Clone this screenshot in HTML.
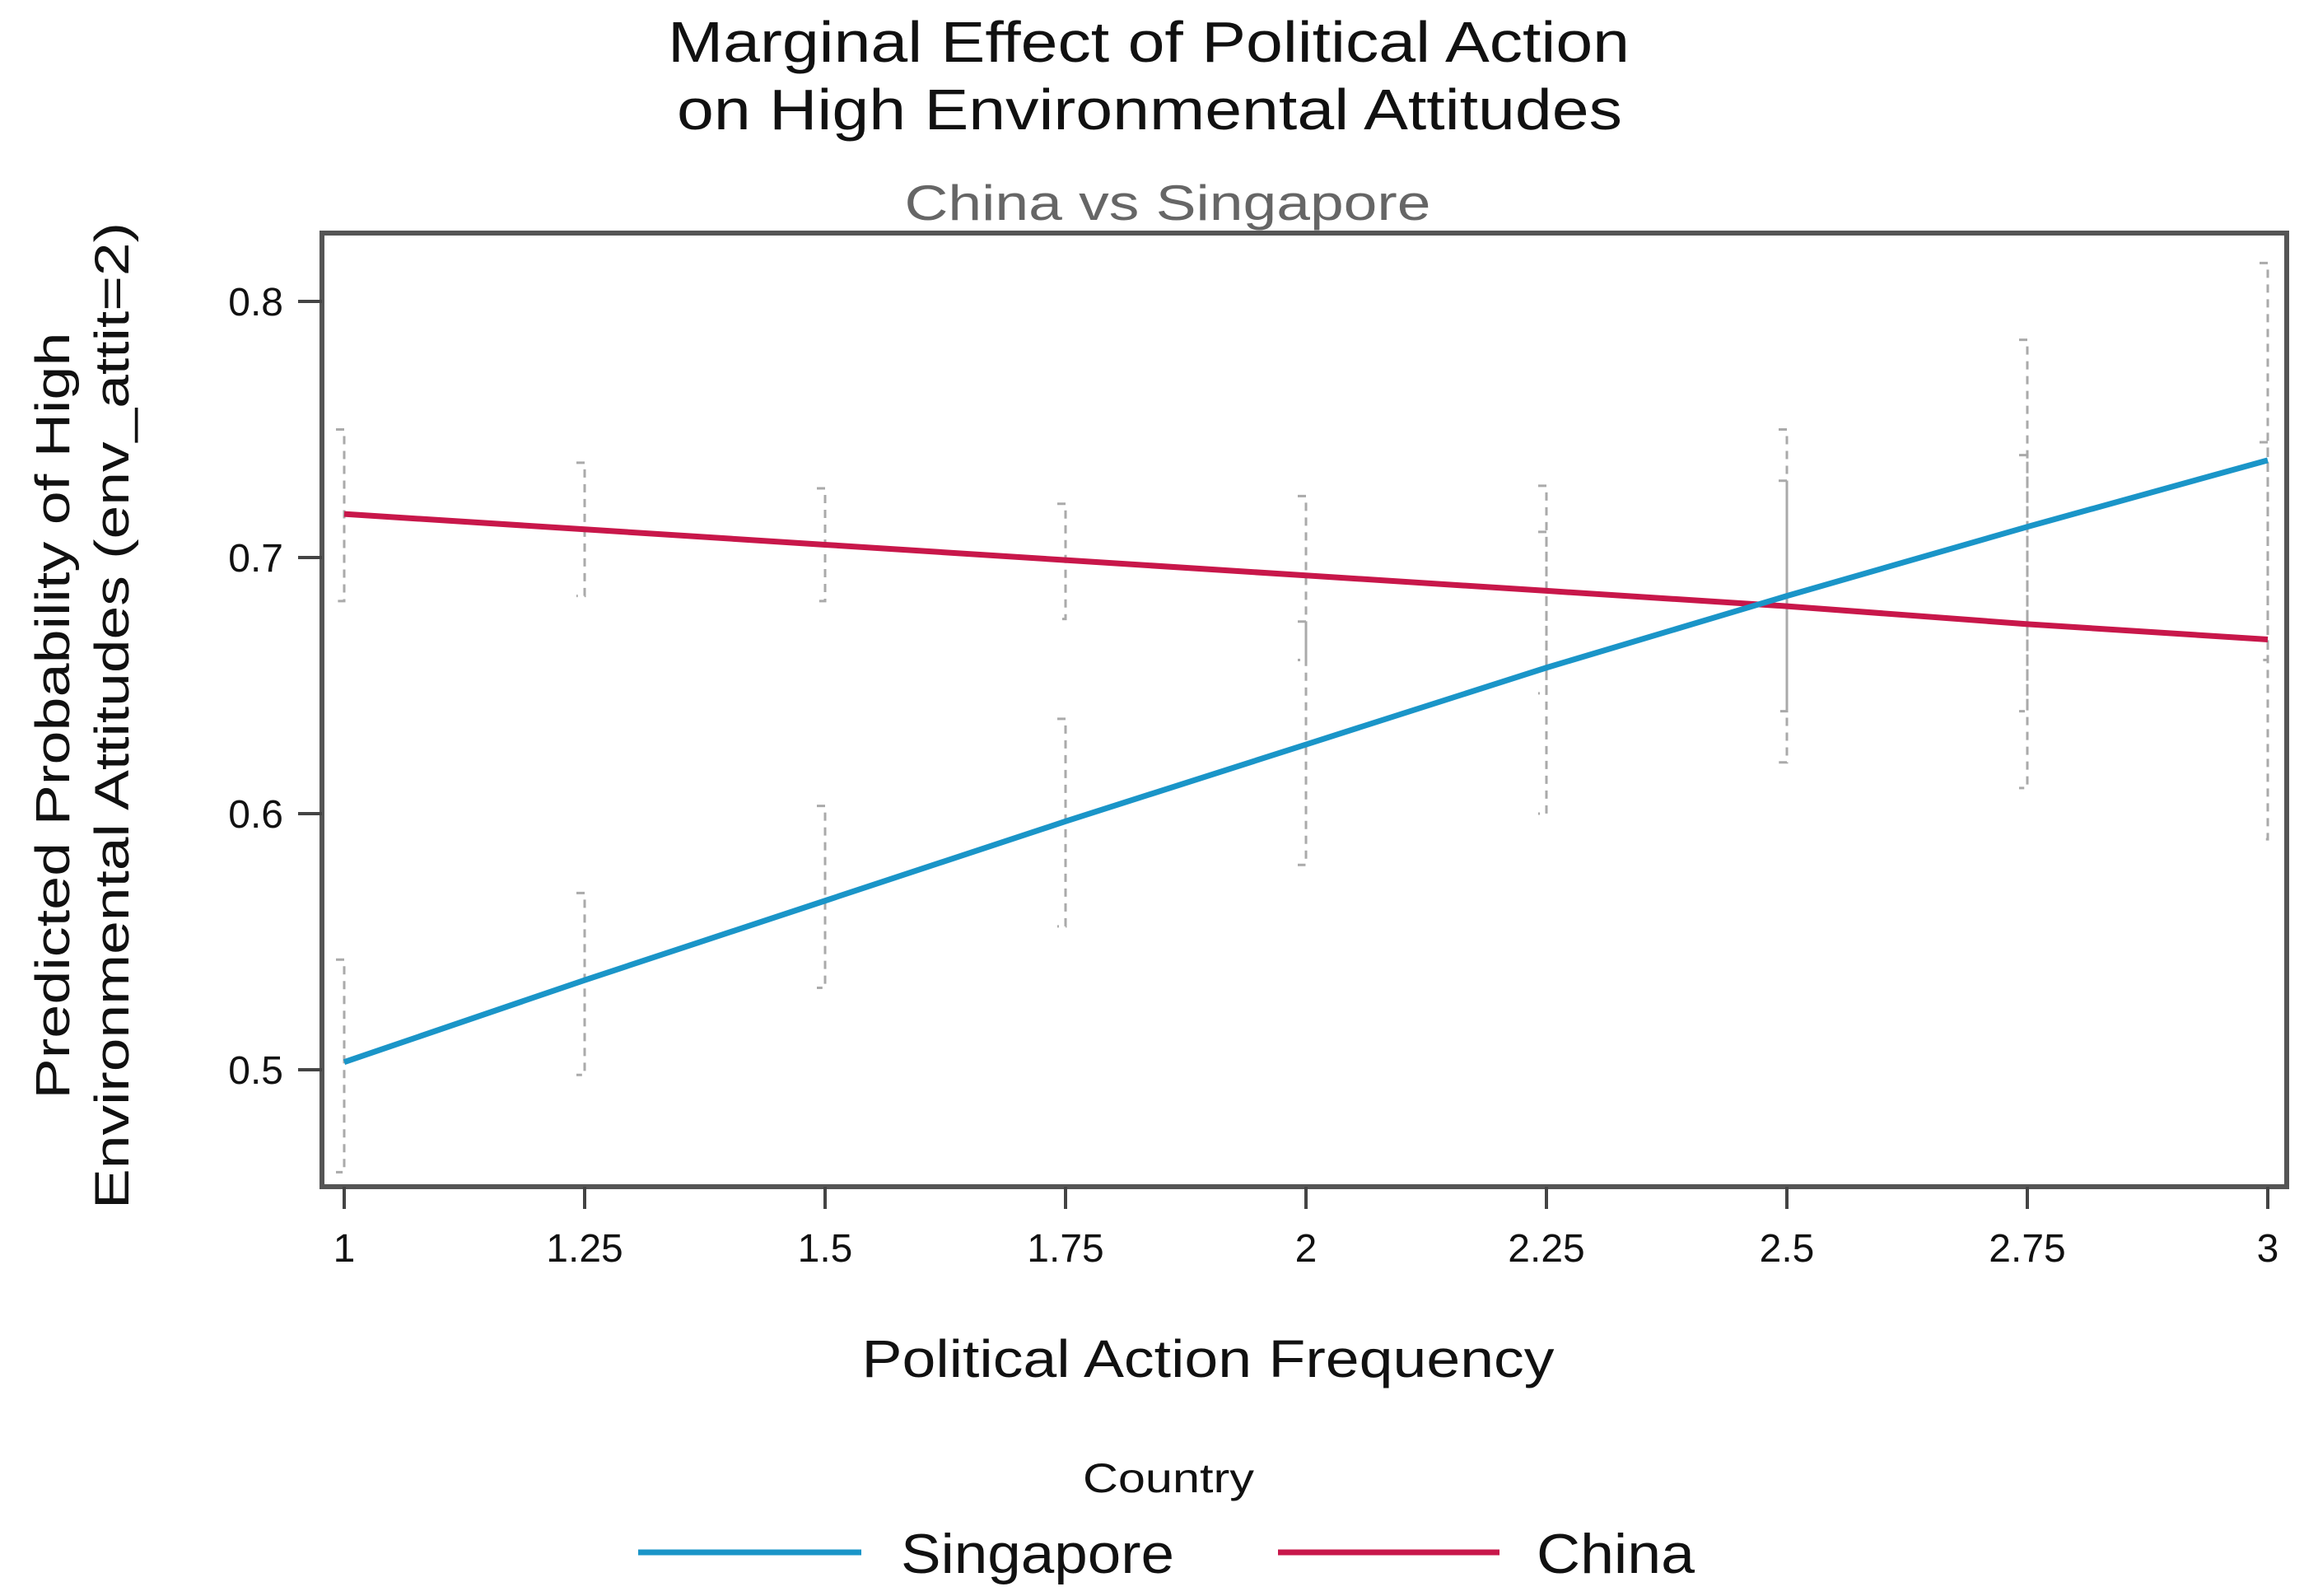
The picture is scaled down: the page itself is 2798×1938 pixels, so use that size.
<!DOCTYPE html>
<html><head><meta charset="utf-8"><style>
html,body{margin:0;padding:0;background:#fff}
svg{display:block}
text{font-family:"Liberation Sans",sans-serif}
</style></head><body>
<svg id="chart" width="2798" height="1938" viewBox="0 0 2798 1938">
<text x="1395" y="75" font-size="70" text-anchor="middle" fill="#111" textLength="1168" lengthAdjust="spacingAndGlyphs">Marginal Effect of Political Action</text>
<text x="1396" y="157" font-size="70" text-anchor="middle" fill="#111" textLength="1148" lengthAdjust="spacingAndGlyphs">on High Environmental Attitudes</text>
<text x="1418" y="267" font-size="60" text-anchor="middle" fill="#666" textLength="639" lengthAdjust="spacingAndGlyphs">China vs Singapore</text>
<rect x="391" y="283" width="2386" height="1158" fill="#fff" stroke="#555" stroke-width="6"/>
<g id="errs"></g><g id="lines"></g><g id="axes"></g>
<text transform="translate(84,869) rotate(-90)" font-size="58" text-anchor="middle" fill="#111" textLength="931" lengthAdjust="spacingAndGlyphs">Predicted Probability of High</text>
<text transform="translate(156,869) rotate(-90)" font-size="58" text-anchor="middle" fill="#111" textLength="1198" lengthAdjust="spacingAndGlyphs">Environmental Attitudes (env_attit=2)</text>
<text x="1467" y="1672" font-size="64" text-anchor="middle" fill="#111" textLength="841" lengthAdjust="spacingAndGlyphs">Political Action Frequency</text>
<text x="1419" y="1812" font-size="50" text-anchor="middle" fill="#111" textLength="208" lengthAdjust="spacingAndGlyphs">Country</text>
<line x1="775" y1="1885" x2="1046" y2="1885" stroke="#1a95c8" stroke-width="7"/>
<text x="1094" y="1910" font-size="68" fill="#111" textLength="332" lengthAdjust="spacingAndGlyphs">Singapore</text>
<line x1="1552" y1="1885" x2="1821" y2="1885" stroke="#c8174a" stroke-width="7"/>
<text x="1866" y="1910" font-size="68" fill="#111" textLength="192" lengthAdjust="spacingAndGlyphs">China</text>
</svg>
<script>
const xVals=[1,1.25,1.5,1.75,2,2.25,2.5,2.75,3];
const xTickLabels=["1","1.25","1.5","1.75","2","2.25","2.5","2.75","3"];
const yTicks=[0.5,0.6,0.7,0.8];
const singapore=[0.503,0.535,0.566,0.597,0.627,0.657,0.685,0.712,0.738];
const singLo=[0.46,0.498,0.532,0.556,0.58,0.60,0.62,0.61,0.59];
const singHi=[0.543,0.569,0.603,0.637,0.675,0.71,0.75,0.785,0.815];
const china=[0.717,0.711,0.705,0.699,0.693,0.687,0.681,0.674,0.668];
const chinaLo=[0.683,0.685,0.683,0.676,0.66,0.647,0.64,0.64,0.66];
const chinaHi=[0.75,0.737,0.727,0.721,0.724,0.728,0.73,0.74,0.745];
const NS="http://www.w3.org/2000/svg";
const X=v=>418+(v-1)*(2754-418)/2;
const Y=v=>1299-(v-0.5)*3110;
function mk(tag,attrs,parent){const e=document.createElementNS(NS,tag);for(const k in attrs)e.setAttribute(k,attrs[k]);document.getElementById(parent).appendChild(e);return e;}
function errBar(x,lo,hi,name){
  const a={stroke:"#aaa","stroke-width":3,"stroke-dasharray":"10,8",fill:"none"};
  const e=mk("path",Object.assign({d:`M${X(x)-10},${Y(hi)}H${X(x)}V${Y(lo)}H${X(x)-10}`},a),"errs");
  
  
}
xVals.forEach((x,i)=>{errBar(x,singLo[i],singHi[i],"error-bar-singapore");errBar(x,chinaLo[i],chinaHi[i],"error-bar-china");});
function line(vals,color,name){
  const p=mk("polyline",{points:vals.map((v,i)=>X(xVals[i])+","+Y(v)).join(" "),fill:"none",stroke:color,"stroke-width":7},"lines");
  
  
}
line(china,"#c8174a","line-china");
line(singapore,"#1a95c8","line-singapore");
yTicks.forEach(t=>{
  const l=mk("line",{x1:362,x2:391,y1:Y(t),y2:Y(t),stroke:"#444","stroke-width":4},"axes");
  
  
  const tx=mk("text",{x:344,y:Y(t)+17,"font-size":48,"text-anchor":"end",fill:"#111"},"axes");
  tx.textContent=String(t);
  
  
});
xVals.forEach((x,i)=>{
  const l=mk("line",{x1:X(x),x2:X(x),y1:1441,y2:1468,stroke:"#444","stroke-width":4},"axes");
  
  
  const tx=mk("text",{x:X(x),y:1532,"font-size":48,"text-anchor":"middle",fill:"#111"},"axes");
  tx.textContent=xTickLabels[i];
  
  
});
</script>
</body></html>
